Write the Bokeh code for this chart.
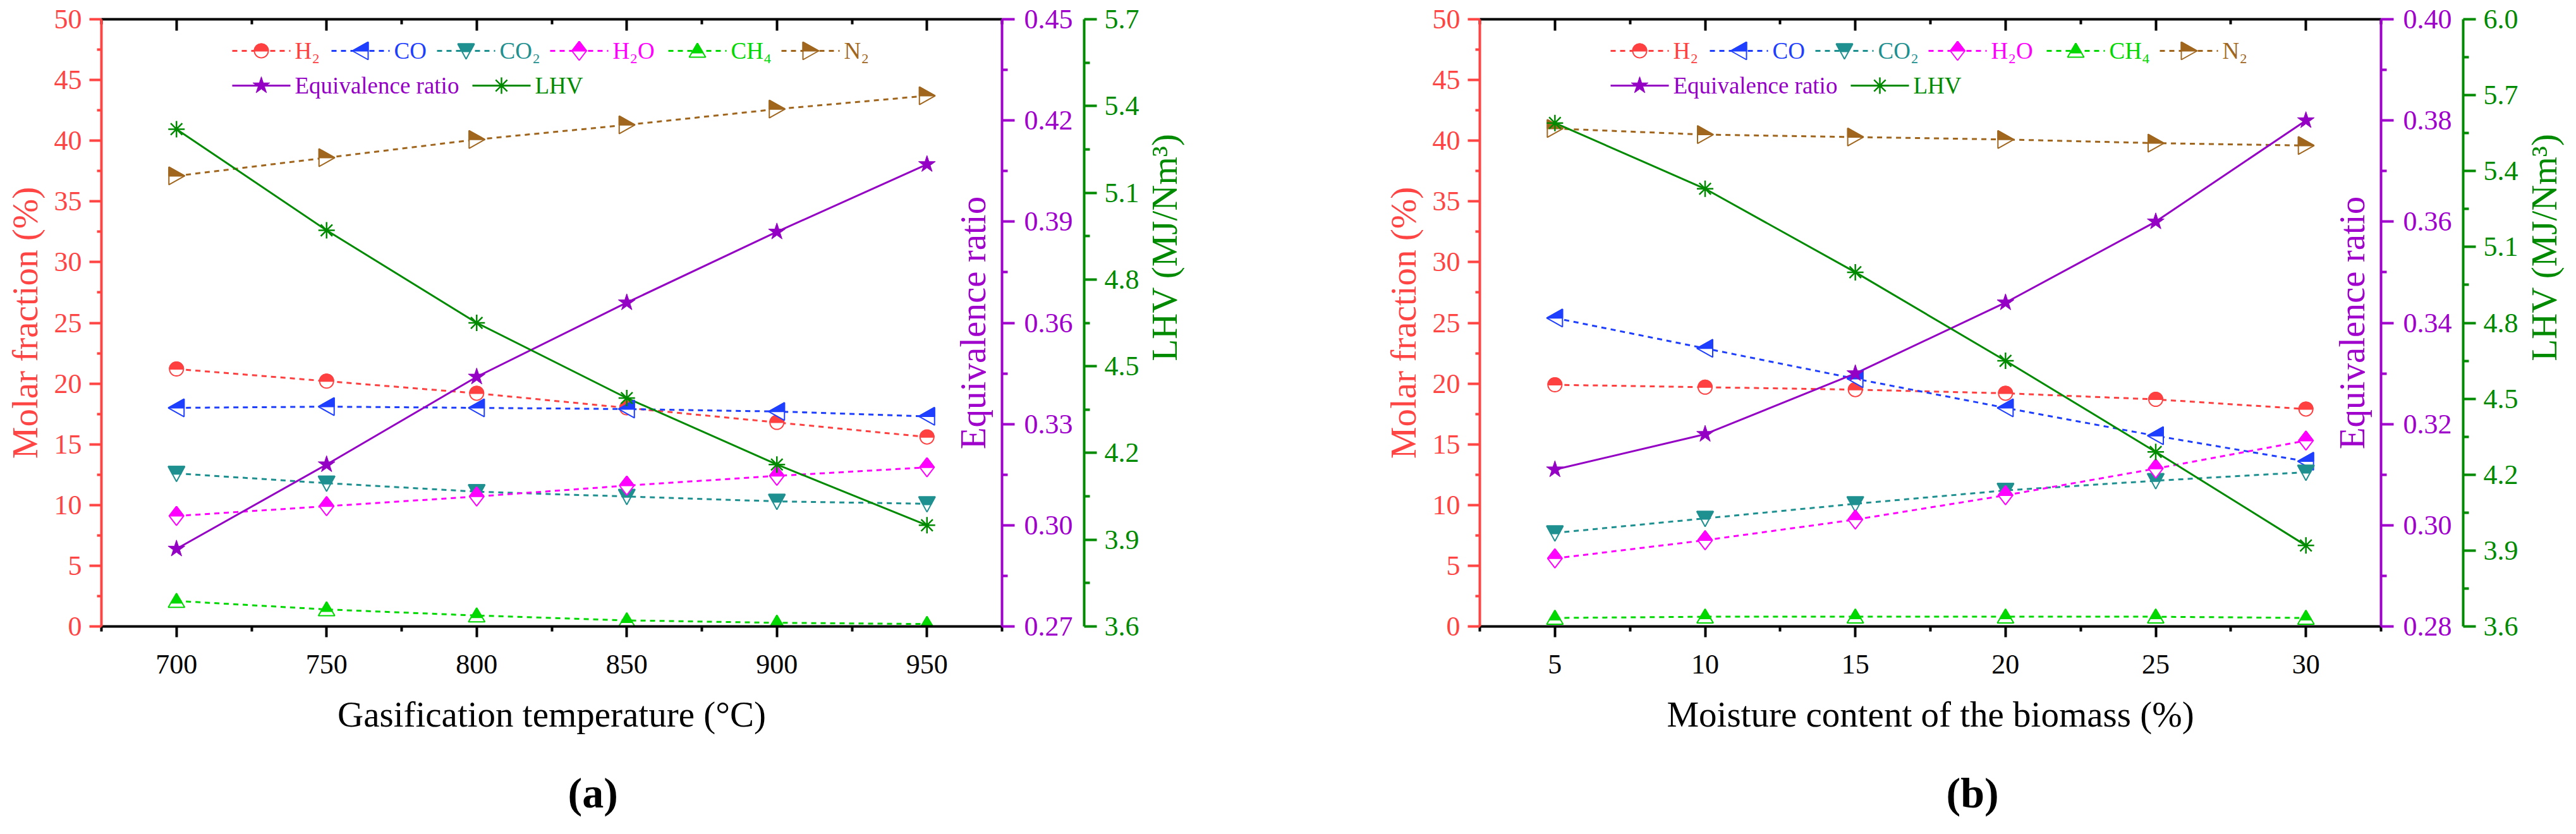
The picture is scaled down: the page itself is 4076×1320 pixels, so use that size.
import math
from bokeh.plotting import figure
from bokeh.models import (Range1d, LinearAxis, FixedTicker, PrintfTickFormatter,
                          CustomJSTickFormatter, Label, Title)
from bokeh.layouts import row
from bokeh.core.properties import value
from bokeh.embed import file_html
from bokeh.resources import INLINE

# (a) gasification temperature
temp = [700, 750, 800, 850, 900, 950]
a_h2 = [21.2, 20.2, 19.2, 18.0, 16.8, 15.6]
a_co = [18.0, 18.1, 18.0, 17.9, 17.7, 17.3]
a_co2 = [12.6, 11.8, 11.1, 10.7, 10.3, 10.1]
a_h2o = [9.1, 9.9, 10.7, 11.6, 12.4, 13.1]
a_ch4 = [2.1, 1.4, 0.9, 0.5, 0.3, 0.2]
a_n2 = [37.1, 38.6, 40.1, 41.3, 42.6, 43.7]
a_er = [0.293, 0.318, 0.344, 0.366, 0.387, 0.407]
a_lhv = [5.32, 4.97, 4.65, 4.39, 4.16, 3.95]

# (b) moisture content
moist = [5, 10, 15, 20, 25, 30]
b_h2 = [19.9, 19.7, 19.5, 19.2, 18.7, 17.9]
b_co = [25.4, 22.9, 20.4, 18.0, 15.7, 13.6]
b_co2 = [7.7, 8.9, 10.1, 11.2, 12.0, 12.7]
b_h2o = [5.6, 7.1, 8.8, 10.8, 13.0, 15.3]
b_ch4 = [0.7, 0.8, 0.8, 0.8, 0.8, 0.7]
b_n2 = [41.0, 40.5, 40.3, 40.1, 39.8, 39.6]
b_er = [0.311, 0.318, 0.330, 0.344, 0.360, 0.380]
b_lhv = [5.59, 5.33, 5.00, 4.65, 4.29, 3.92]

# ticks
y_ticks = [0, 5, 10, 15, 20, 25, 30, 35, 40, 45, 50]
a_x_ticks = [700, 750, 800, 850, 900, 950]
b_x_ticks = [5, 10, 15, 20, 25, 30]
a_er_ticks = [0.27, 0.30, 0.33, 0.36, 0.39, 0.42, 0.45]
b_er_ticks = [0.28, 0.30, 0.32, 0.34, 0.36, 0.38, 0.40]
a_lhv_ticks = [3.6, 3.9, 4.2, 4.5, 4.8, 5.1, 5.4, 5.7]
b_lhv_ticks = [3.6, 3.9, 4.2, 4.5, 4.8, 5.1, 5.4, 5.7, 6.0]

gas_names = ["H₂", "CO", "CO₂", "H₂O", "CH₄", "N₂"]
gas_colors = ["#FF4040", "#1F3FFF", "#1E9090", "#FF00FF", "#00D800", "#A0661E"]
gas_shapes = ["circle", "left", "down", "diamond", "up", "right"]

FONT = "Liberation Serif"
RED = "#FF4444"
ER_C = "#9400C4"
ER_AX = "#A000CC"
LHV_C = "#008A00"
FH = 961
TOP = 30
PAGE_H = 1300


def circle_poly(r, n=36):
    return [(r * math.cos(2 * math.pi * k / n), r * math.sin(2 * math.pi * k / n)) for k in range(n)]


# marker outlines in pixels (y up) and height where the filled half starts
SHAPES = {
    "circle": (circle_poly(11), 0),
    "left": ([(-13, 0), (12, 14), (12, -14)], 0),
    "right": ([(13, 0), (-12, 14), (-12, -14)], 0),
    "down": ([(-13, 11), (13, 11), (0, -13)], -1),
    "up": ([(0, 12), (-13, -10), (13, -10)], -3),
    "diamond": ([(0, 15), (11.5, 0), (0, -15), (-11.5, 0)], 0),
}


def clip_above(poly, cut):
    out = []
    n = len(poly)
    for i in range(n):
        x1, y1 = poly[i]
        x2, y2 = poly[(i + 1) % n]
        in1, in2 = y1 >= cut, y2 >= cut
        if in1:
            out.append((x1, y1))
        if in1 != in2:
            t = (cut - y1) / (y2 - y1)
            out.append((x1 + t * (x2 - x1), cut))
    return out


def half_markers(p, xv, yv, shape, color, sx, sy):
    poly, cut = SHAPES[shape]
    top = clip_above(poly, cut)
    p.patches([[x + u * sx for u, v in poly] for x in xv],
              [[y + v * sy for u, v in poly] for y in yv],
              fill_color="white", line_color=color, line_width=2)
    p.patches([[x + u * sx for u, v in top] for x in xv],
              [[y + v * sy for u, v in top] for y in yv],
              fill_color=color, line_color=color, line_width=2)


def style_axis(ax, color, tick_out, minor_out, tick_in=0, minor_in=0):
    ax.axis_line_color = color
    ax.axis_line_width = 4
    ax.major_tick_line_color = color
    ax.minor_tick_line_color = color
    ax.major_tick_line_width = 4
    ax.minor_tick_line_width = 4
    ax.major_tick_out = tick_out
    ax.major_tick_in = tick_in
    ax.minor_tick_out = minor_out
    ax.minor_tick_in = minor_in
    ax.major_label_text_color = color
    ax.major_label_text_font = FONT
    ax.major_label_text_font_size = "44px"
    ax.major_label_standoff = 12
    ax.axis_label_text_color = color
    ax.axis_label_text_font = FONT
    ax.axis_label_text_font_size = "57px"
    ax.axis_label_text_font_style = "normal"
    ax.axis_label_standoff = 12


def mids(ticks):
    step = ticks[1] - ticks[0]
    return [t - step / 2 for t in ticks] + [ticks[-1] + step / 2]


def make_panel(xv, gases, er, lhv, xr, xt, er_r, er_t, lhv_r, lhv_t,
               xlabel, tag, left, right, fw):
    p = figure(frame_width=fw, frame_height=FH, x_range=Range1d(*xr), y_range=Range1d(0, 50),
               output_backend="svg", toolbar_location=None,
               min_border_left=left, min_border_right=right,
               min_border_top=TOP, min_border_bottom=PAGE_H - TOP - FH)
    p.grid.grid_line_color = None
    p.outline_line_color = None
    p.background_fill_color = "white"
    p.border_fill_color = "white"
    p.extra_y_ranges = {"er": Range1d(*er_r), "lhv": Range1d(*lhv_r)}

    sx = (xr[1] - xr[0]) / fw
    sy = 50 / FH

    xa = p.xaxis[0]
    xa.ticker = FixedTicker(ticks=xt, minor_ticks=mids(xt))
    style_axis(xa, "black", 17, 8)
    xa.major_label_standoff = 28
    xa.axis_label = xlabel
    xa.axis_label_standoff = 30

    ya = p.yaxis[0]
    ya.ticker = FixedTicker(ticks=y_ticks, minor_ticks=mids(y_ticks))
    style_axis(ya, RED, 19, 7)
    ya.axis_label = "Molar fraction (%)"

    top = LinearAxis(ticker=FixedTicker(ticks=xt, minor_ticks=mids(xt)),
                     formatter=CustomJSTickFormatter(code="return ''"))
    style_axis(top, "black", 0, 0, 18, 8)
    p.add_layout(top, "above")

    era = LinearAxis(y_range_name="er", ticker=FixedTicker(ticks=er_t, minor_ticks=mids(er_t)),
                     formatter=PrintfTickFormatter(format="%.2f"))
    style_axis(era, ER_AX, 20, 9)
    era.major_label_standoff = 15
    p.add_layout(era, "right")

    # blank axis, only a gap between the two right axes
    gap = LinearAxis(y_range_name="er", ticker=FixedTicker(ticks=[er_t[0]]),
                     formatter=CustomJSTickFormatter(code="return ''"),
                     axis_line_color=None, major_tick_line_color=None,
                     minor_tick_line_color=None, major_tick_out=15, major_label_standoff=0)
    p.add_layout(gap, "right")

    lhva = LinearAxis(y_range_name="lhv", ticker=FixedTicker(ticks=lhv_t, minor_ticks=mids(lhv_t)),
                      formatter=PrintfTickFormatter(format="%.1f"))
    style_axis(lhva, LHV_C, 20, 9)
    p.add_layout(lhva, "right")

    # series
    for vals, c in zip(gases, gas_colors):
        p.line(xv, vals, line_color=c, line_width=3, line_dash="8 7")
    p.line(xv, er, y_range_name="er", line_color=ER_C, line_width=3)
    p.line(xv, lhv, y_range_name="lhv", line_color=LHV_C, line_width=3)
    for vals, c, s in zip(gases, gas_colors, gas_shapes):
        half_markers(p, xv, vals, s, c, sx, sy)
    p.scatter(xv, er, y_range_name="er", marker="star", size=28,
              fill_color=ER_C, line_color=ER_C)
    p.scatter(xv, lhv, y_range_name="lhv", marker="asterisk", size=26,
              line_color=LHV_C, line_width=2.5)

    # legend drawn by hand (half filled markers, coloured labels)
    def fx(px):
        return xr[0] + px * sx

    def fy(py):
        return 50 - py * sy

    starts = [207, 364, 531, 710, 897, 1076]
    for st, name, c, s in zip(starts, gas_names, gas_colors, gas_shapes):
        p.line([fx(st), fx(st + 92)], [fy(50), fy(50)], line_color=c, line_width=3, line_dash="8 7")
        half_markers(p, [fx(st + 46)], [fy(50)], s, c, sx, sy)
        p.text([fx(st + 99)], [fy(50)], text=[name], text_color=c, text_font=value(FONT),
               text_font_size="37px", text_baseline="middle", text_align="left")
    row2 = [(207, "Equivalence ratio", ER_C, "star"), (587, "LHV", LHV_C, "asterisk")]
    for st, name, c, m in row2:
        p.line([fx(st), fx(st + 92)], [fy(105), fy(105)], line_color=c, line_width=3)
        if m == "star":
            p.scatter([fx(st + 46)], [fy(105)], marker="star", size=28, fill_color=c, line_color=c)
        else:
            p.scatter([fx(st + 46)], [fy(105)], marker="asterisk", size=26, line_color=c, line_width=2.5)
        p.text([fx(st + 99)], [fy(105)], text=[name], text_color=c, text_font=value(FONT),
               text_font_size="37px", text_baseline="middle", text_align="left")

    p.add_layout(Label(x=fw - 46, y=FH / 2, x_units="screen", y_units="screen",
                       text="Equivalence ratio", angle=math.pi / 2, text_align="center",
                       text_baseline="middle", text_font=FONT, text_font_size="57px",
                       text_color=ER_AX))
    p.add_layout(Title(text=tag, align="left", offset=738, standoff=100,
                       text_font=FONT, text_font_size="68px", text_font_style="bold",
                       text_color="black"), "below")
    return p


def lhv_title(width, xc):
    # narrow strip holding the LHV axis title, read from bottom to top
    f = figure(width=width, height=PAGE_H, x_range=Range1d(0, width), y_range=Range1d(0, PAGE_H),
               output_backend="svg", toolbar_location=None, min_border=0,
               x_axis_location=None, y_axis_location=None)
    f.outline_line_color = None
    f.grid.grid_line_color = None
    f.text([xc], [PAGE_H - TOP - FH / 2], text=["LHV (MJ/Nm³)"], angle=math.pi / 2,
           text_align="center", text_baseline="middle", text_font=value(FONT),
           text_font_size="57px", text_color=LHV_C)
    return f


pa = make_panel(temp, [a_h2, a_co, a_co2, a_h2o, a_ch4, a_n2], a_er, a_lhv, (675, 975), a_x_ticks,
                (0.27, 0.45), a_er_ticks, (3.6, 5.7), a_lhv_ticks,
                "Gasification temperature (°C)", "(a)", 160, 225, 1425)
la = lhv_title(372, 32)
pb = make_panel(moist, [b_h2, b_co, b_co2, b_h2o, b_ch4, b_n2], b_er, b_lhv, (2.5, 32.5), b_x_ticks,
                (0.28, 0.40), b_er_ticks, (3.6, 6.0), b_lhv_ticks,
                "Moisture content of the biomass (%)", "(b)", 159, 225, 1426)
lb = lhv_title(68, 33)

layout = row(pa, la, pb, lb)
open("out.html", "w").write(file_html(layout, INLINE))
